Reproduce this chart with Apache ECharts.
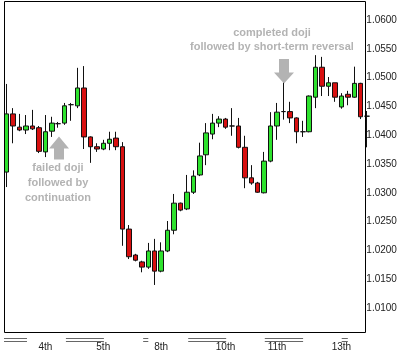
<!DOCTYPE html>
<html>
<head>
<meta charset="utf-8">
<script src="https://cdn.jsdelivr.net/npm/echarts@6/dist/echarts.min.js"></script>
<style>
html,body{margin:0;padding:0;background:#fff;}
#chart{width:400px;height:356px;}
</style>
</head>
<body>
<div id="chart"></div>
<script>
// ---- data ----
const open = [1.0336,1.0437,1.0414,1.0409,1.0416,1.0413,1.0371,1.0407,1.0420,1.0421,
  1.0453,1.0451,1.0482,1.0397,1.0380,1.0376,1.0386,1.0395,1.0380,1.0237,
  1.0192,1.0180,1.0171,1.0199,1.0164,1.0199,1.0235,1.0282,1.0272,1.0301,
  1.0331,1.0366,1.0402,1.0421,1.0428,1.0416,1.0416,1.0379,1.0326,1.0317,
  1.0300,1.0355,1.0416,1.0441,1.0441,1.0430,1.0406,1.0406,1.0466,1.0518,
  1.0485,1.0491,1.0449,1.0471,1.0466,1.0490,1.0433];
const close = [1.0437,1.0416,1.0409,1.0416,1.0411,1.0372,1.0406,1.0421,1.0420,1.0451,
  1.0453,1.0482,1.0397,1.0380,1.0376,1.0386,1.0393,1.0380,1.0237,1.0189,
  1.0183,1.0171,1.0199,1.0164,1.0199,1.0235,1.0282,1.0270,1.0301,1.0329,
  1.0364,1.0404,1.0421,1.0428,1.0414,1.0416,1.0379,1.0326,1.0317,1.0301,
  1.0355,1.0416,1.0440,1.0441,1.0430,1.0406,1.0406,1.0468,1.0518,1.0485,
  1.0491,1.0466,1.0468,1.0466,1.0490,1.0432,1.0433];
const low = [1.0310,1.0386,1.0407,1.0402,1.0409,1.0369,1.0362,1.0397,1.0413,1.0418,
  1.0425,1.0447,1.0376,1.0352,1.0371,1.0374,1.0374,1.0374,1.0208,1.0185,
  1.0181,1.0162,1.0168,1.0140,1.0162,1.0197,1.0228,1.0268,1.0270,1.0298,
  1.0329,1.0348,1.0393,1.0414,1.0411,1.0399,1.0377,1.0308,1.0314,1.0300,
  1.0299,1.0353,1.0392,1.0427,1.0421,1.0386,1.0397,1.0405,1.0447,1.0468,
  1.0468,1.0458,1.0446,1.0452,1.0465,1.0428,1.0379];
const high = [1.0489,1.0447,1.0437,1.0435,1.0444,1.0416,1.0435,1.0432,1.0423,1.0456,
  1.0456,1.0517,1.0520,1.0398,1.0386,1.0392,1.0406,1.0406,1.0388,1.0244,
  1.0194,1.0182,1.0213,1.0220,1.0214,1.0251,1.0298,1.0283,1.0331,1.0339,
  1.0387,1.0421,1.0437,1.0433,1.0430,1.0447,1.0430,1.0399,1.0348,1.0319,
  1.0371,1.0440,1.0456,1.0491,1.0458,1.0431,1.0425,1.0469,1.0539,1.0536,
  1.0501,1.0491,1.0473,1.0477,1.0519,1.0491,1.0442];

// day tick labels and the bar (candle) index each sits under
const dayLabels = ['4th','5th','8th','10th','11th','13th'];
const dayLabelIndex = [6,15,24,34,42,52];

// session bars under the axis, as [from, to] in bar-index units
const sessionBars = [[-0.42,3.15],[9.2,15.1],[21.2,22.0],[28.2,34.1],[40.1,46.05],[52.05,53.0]];

// annotations
const noteRight = ['completed doji','followed by short-term reversal'];
const noteLeft = ['failed doji','followed by','continuation'];

// ---- build ----
const categories = open.map(function(_, i){
  const k = dayLabelIndex.indexOf(i);
  return k >= 0 ? dayLabels[k] : '';
});
const ohlc = open.map(function(o, i){ return [o, close[i], low[i], high[i]]; });

const chart = echarts.init(document.getElementById('chart'), null, {renderer:'canvas'});
const GREEN = '#2ee22e', RED = '#d81010', EDGE = '#111', NOTE = '#b3b3b3';

chart.setOption({
  animation: false,
  backgroundColor: '#fff',
  grid: {left: 3.5, right: 29.65, top: 1, bottom: 19.2, show: false},
  xAxis: {
    type: 'category', data: categories, boundaryGap: true,
    axisLine: {show: false}, axisTick: {show: false}, splitLine: {show: false},
    axisLabel: {interval: 0, margin: 5, color: '#222', fontSize: 10,
      fontFamily: 'Liberation Sans, Arial, sans-serif', hideOverlap: false}
  },
  yAxis: {
    type: 'value', position: 'right', offset: -5, scale: true,
    min: 1.005, max: 1.0633, interval: 0.005,
    axisLine: {show: false}, axisTick: {show: false}, splitLine: {show: false},
    axisLabel: {margin: 1, color: '#222', fontSize: 10, showMinLabel: false, showMaxLabel: false,
      fontFamily: 'Liberation Sans, Arial, sans-serif',
      formatter: function(v){ return v.toFixed(4); }}
  },
  series: [{
    type: 'candlestick', data: ohlc, barWidth: 5,
    itemStyle: {color: GREEN, color0: RED, borderColor: EDGE, borderColor0: EDGE,
      borderColorDoji: EDGE, borderWidth: 1}
  }]
});

// decorations positioned from the axis scale
const p0 = chart.convertToPixel({xAxisIndex: 0}, 0);
const p1 = chart.convertToPixel({xAxisIndex: 0}, 1);
function bx(f){ return p0 + f * (p1 - p0); }

const g = [];
// plot frame
g.push({type: 'rect', shape: {x: 4.5, y: 1.5, width: 361, height: 331},
  style: {fill: null, stroke: '#000', lineWidth: 1}, silent: true, z: 10});
// double session bars
sessionBars.forEach(function(s){
  const a = Math.max(bx(s[0]), 4), b = bx(s[1]);
  [338.5, 341.5].forEach(function(y){
    g.push({type: 'line', shape: {x1: a, y1: y, x2: b, y2: y},
      style: {stroke: '#666', lineWidth: 1}, silent: true});
  });
});
// right annotation
const rx = 272;
noteRight.forEach(function(t, i){
  g.push({type: 'text', style: {text: t, x: rx, y: 33 + i * 13.5, align: 'center', verticalAlign: 'middle',
    textAlign: 'center', textVerticalAlign: 'middle',
    fill: NOTE, font: 'bold 11px "Liberation Sans", Arial, sans-serif'}, silent: true});
});
g.push({type: 'polygon', shape: {points: [[279,59],[289,59],[289,72.5],[294,72.5],[284,83.5],[274,72.5],[279,72.5]]},
  style: {fill: NOTE}, silent: true});
// left annotation
const lx = 58;
noteLeft.forEach(function(t, i){
  g.push({type: 'text', style: {text: t, x: lx, y: 168 + i * 15, align: 'center', verticalAlign: 'middle',
    textAlign: 'center', textVerticalAlign: 'middle',
    fill: NOTE, font: 'bold 11px "Liberation Sans", Arial, sans-serif'}, silent: true});
});
g.push({type: 'polygon', shape: {points: [[59,136.5],[69,148.5],[64,148.5],[64,159.5],[54,159.5],[54,148.5],[49,148.5]]},
  style: {fill: NOTE}, silent: true});

chart.setOption({graphic: g});
</script>
</body>
</html>
